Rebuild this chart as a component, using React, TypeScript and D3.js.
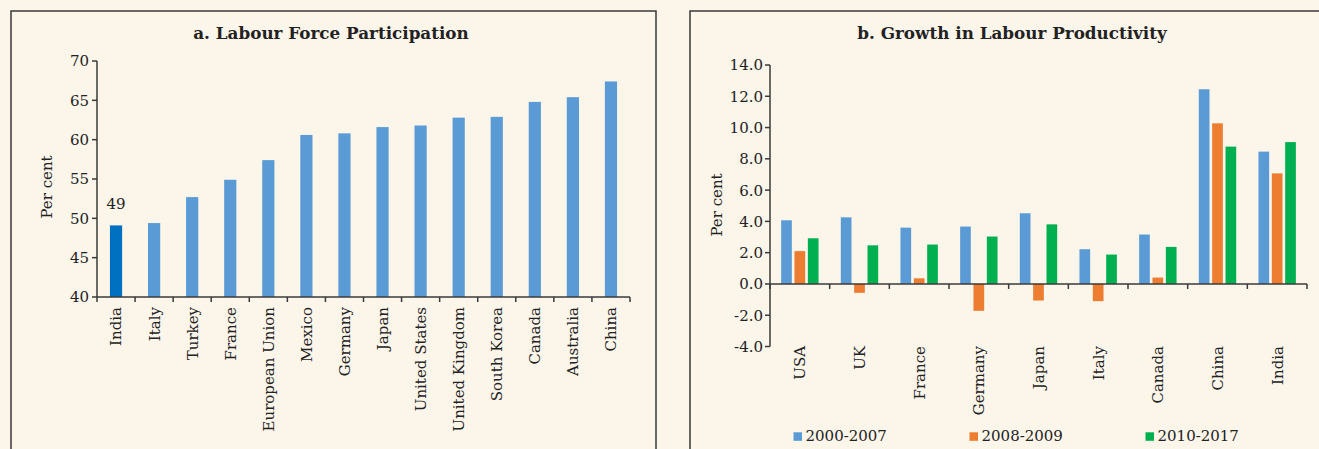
import React from "react";
import * as d3 from "d3";

const countriesA = ["India","Italy","Turkey","France","European Union","Mexico","Germany","Japan","United States","United Kingdom","South Korea","Canada","Australia","China"];
const valuesA = [49.1,49.4,52.7,54.9,57.4,60.6,60.8,61.6,61.8,62.8,62.9,64.8,65.4,67.4];
const yTicksA = [40,45,50,55,60,65,70];

const countriesB = ["USA","UK","France","Germany","Japan","Italy","Canada","China","India"];
const seriesB = ["2000-2007","2008-2009","2010-2017"];
const s2000_2007 = [4.07,4.26,3.6,3.67,4.52,2.22,3.16,12.45,8.46];
const s2008_2009 = [2.1,-0.57,0.36,-1.72,-1.06,-1.1,0.41,10.27,7.07];
const s2010_2017 = [2.92,2.47,2.52,3.03,3.81,1.88,2.37,8.78,9.07];
const yTicksB = [-4,-2,0,2,4,6,8,10,12,14];

const BG = "#FBF5EA";
const AX = "#3a3a3a";
const TXT = "#222";
const FONT = "'DejaVu Serif', serif";
const seriesColors = ["#5B9BD5","#ED7D31","#00B050"];

export default function App() {
  // Panel A scales
  const xA = d3.scaleBand<string>().domain(countriesA).range([97,630]).padding(0);
  const yA = d3.scaleLinear().domain([40,70]).range([297,61]);
  const barWA = xA.bandwidth()*0.32;

  // Panel B scales
  const xB = d3.scaleBand<string>().domain(countriesB).range([770,1307]).padding(0);
  const yB = d3.scaleLinear().domain([-4,14]).range([346.5,65]);
  const inner = d3.scaleBand<string>().domain(seriesB).range([-18.7,18.7]).paddingInner(0.2).paddingOuter(0);
  const seriesVals = [s2000_2007,s2008_2009,s2010_2017];

  const boundA = d3.range(countriesA.length+1).map(i => 97 + i*xA.step());
  const boundB = d3.range(countriesB.length+1).map(i => 770 + i*xB.step());

  return (
    <svg width={1319} height={449} style={{position:"absolute",left:0,top:0}} fontFamily={FONT}>
      <rect x={0} y={0} width={1319} height={449} fill={BG}/>
      {/* panel borders */}
      <path d="M11,460 L11,11 L656,11 L656,460" fill="none" stroke={AX} strokeWidth={1.5}/>
      <path d="M690,460 L690,11 L1330,11" fill="none" stroke={AX} strokeWidth={1.5}/>

      {/* Panel A */}
      <text x={331} y={39} textAnchor="middle" fontWeight="bold" fontSize={16.8} fill={TXT}>a. Labour Force Participation</text>
      {countriesA.map((c,i) => (
        <rect key={c} x={xA(c)! + xA.bandwidth()/2 - barWA/2} y={yA(valuesA[i])} width={barWA} height={yA(40)-yA(valuesA[i])}
          fill={i===0 ? "#0070C0" : "#5B9BD5"}/>
      ))}
      <text x={xA("India")! + xA.bandwidth()/2} y={yA(valuesA[0]) - 16} textAnchor="middle" fontSize={15} fill={TXT}>49</text>
      <line x1={97} x2={97} y1={yA(70)} y2={yA(40)} stroke={AX} strokeWidth={1.5}/>
      <line x1={97} x2={630} y1={yA(40)} y2={yA(40)} stroke={AX} strokeWidth={1.5}/>
      {yTicksA.map(t => (
        <g key={t}>
          <line x1={92} x2={97} y1={yA(t)} y2={yA(t)} stroke={AX} strokeWidth={1.5}/>
          <text x={89} y={yA(t)} dy="0.36em" textAnchor="end" fontSize={15} fill={TXT}>{t}</text>
        </g>
      ))}
      {boundA.map((b,i) => <line key={i} x1={b} x2={b} y1={yA(40)} y2={yA(40)+5} stroke={AX} strokeWidth={1.5}/>)}
      {countriesA.map(c => (
        <text key={c} transform={`translate(${xA(c)! + xA.bandwidth()/2},307) rotate(-90)`} dy="0.36em" textAnchor="end" fontSize={15} fill={TXT}>{c}</text>
      ))}
      <text transform="translate(46.5,187) rotate(-90)" dy="0.36em" textAnchor="middle" fontSize={15} fill={TXT}>Per cent</text>

      {/* Panel B */}
      <text x={1012} y={39} textAnchor="middle" fontWeight="bold" fontSize={16.8} fill={TXT}>b. Growth in Labour Productivity</text>
      {countriesB.map((c,i) => (
        <g key={c}>
          {seriesB.map((s,j) => {
            const v = seriesVals[j][i];
            const x = xB(c)! + xB.bandwidth()/2 + inner(s)!;
            return <rect key={s} x={x} y={yB(Math.max(v,0))} width={inner.bandwidth()} height={Math.abs(yB(v)-yB(0))} fill={seriesColors[j]}/>;
          })}
        </g>
      ))}
      <line x1={770} x2={770} y1={yB(14)} y2={yB(-4)} stroke={AX} strokeWidth={1.5}/>
      <line x1={770} x2={1307} y1={yB(0)} y2={yB(0)} stroke={AX} strokeWidth={1.5}/>
      {yTicksB.map(t => (
        <g key={t}>
          <line x1={765} x2={770} y1={yB(t)} y2={yB(t)} stroke={AX} strokeWidth={1.5}/>
          <text x={763} y={yB(t)} dy="0.36em" textAnchor="end" fontSize={15} fill={TXT}>{t.toFixed(1)}</text>
        </g>
      ))}
      {boundB.map((b,i) => <line key={i} x1={b} x2={b} y1={yB(0)} y2={yB(0)+5} stroke={AX} strokeWidth={1.5}/>)}
      {countriesB.map(c => (
        <text key={c} transform={`translate(${xB(c)! + xB.bandwidth()/2},346) rotate(-90)`} dy="0.36em" textAnchor="end" fontSize={15} fill={TXT}>{c}</text>
      ))}
      <text transform="translate(717,205) rotate(-90)" dy="0.36em" textAnchor="middle" fontSize={15} fill={TXT}>Per cent</text>

      {/* Legend */}
      {seriesB.map((s,j) => {
        const lx = [793.5,969.5,1145.5][j];
        return (
          <g key={s}>
            <rect x={lx} y={432.3} width={8.5} height={8.5} fill={seriesColors[j]}/>
            <text x={lx+12} y={441} fontSize={15} fill={TXT}>{s}</text>
          </g>
        );
      })}
    </svg>
  );
}
